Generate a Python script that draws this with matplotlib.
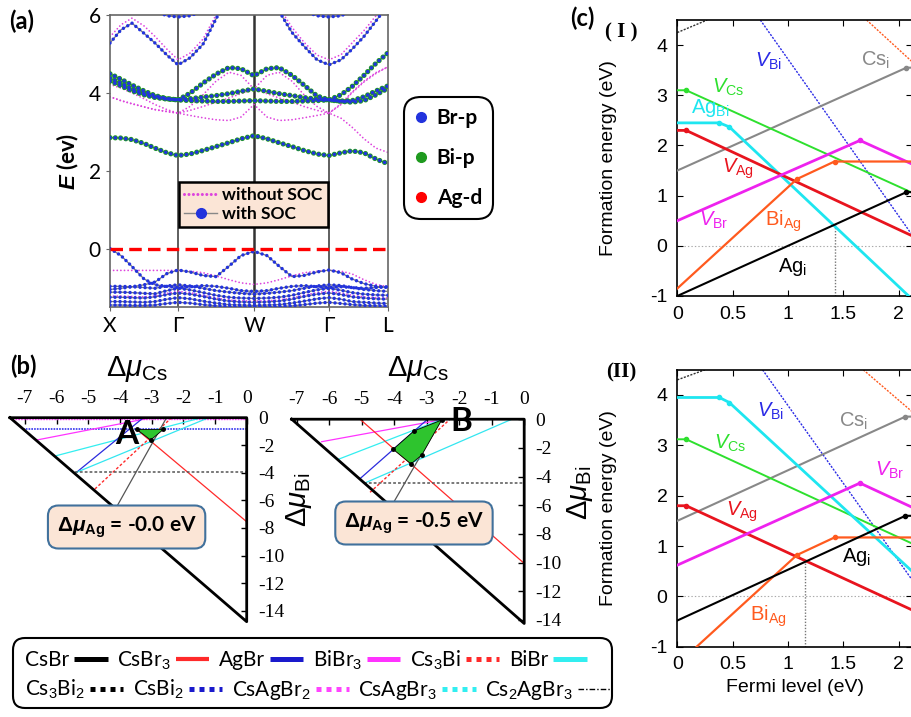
import numpy as np
import matplotlib

matplotlib.use("Agg")
import matplotlib.pyplot as plt
from matplotlib.lines import Line2D
from matplotlib.patches import FancyBboxPatch
from matplotlib.transforms import IdentityTransform
from matplotlib.ticker import FormatStrFormatter

W, H = 912, 717
nan = np.nan

plt.rcParams.update({
    "font.family": ["Lato", "DejaVu Sans"],
    "axes.unicode_minus": False,
    "lines.scale_dashes": False,
    "mathtext.fontset": "custom",
    "mathtext.rm": "Liberation Sans",
    "mathtext.it": "Liberation Sans:italic",
    "mathtext.bf": "Liberation Sans:bold",
    "mathtext.bfit": "Liberation Sans:bold:italic",
    "mathtext.fallback": "stixsans",
})

# ---- (a) band structure ---------------------------------------------------
K_NODES = [0.0, 0.68, 1.44, 2.19, 2.78]
K_NAMES = ["X", "Γ", "W", "Γ", "L"]
K = [0.00, 0.11, 0.22, 0.34, 0.45, 0.57, 0.68, 0.80, 0.93, 1.06, 1.19, 1.31,
     1.44, 1.57, 1.69, 1.82, 1.94, 2.07, 2.19, 2.31, 2.42, 2.54, 2.66, 2.78]

# with SOC, conduction
C1 = [2.85, 2.84, 2.80, 2.70, 2.58, 2.46, 2.39, 2.43, 2.52, 2.62, 2.72, 2.82,
      2.90, 2.82, 2.72, 2.62, 2.52, 2.43, 2.39, 2.46, 2.51, 2.46, 2.30, 2.18]
C2 = [4.49, 4.35, 4.20, 4.05, 3.93, 3.85, 3.82, 3.99, 4.25, 4.48, 4.65, 4.62,
      4.44, 4.62, 4.65, 4.45, 4.20, 3.92, 3.82, 3.95, 4.16, 4.45, 4.76, 5.03]
C3 = [4.38, 4.25, 4.10, 3.98, 3.90, 3.85, 3.82, 3.85, 3.89, 3.93, 3.98, 4.04,
      4.10, 4.04, 3.98, 3.93, 3.88, 3.84, 3.82, 3.79, 3.80, 3.90, 4.05, 4.18]
C4 = [4.30, 4.18, 4.05, 3.95, 3.88, 3.84, 3.82, 3.80, 3.79, 3.78, 3.78, 3.79,
      3.80, 3.79, 3.78, 3.78, 3.79, 3.80, 3.82, 3.78, 3.76, 3.80, 3.95, 4.12]
C5 = [5.28, 5.62, 5.79, 5.53, 5.28, 4.97, 4.72, 4.90, 5.25, 5.90, 6.50, nan,
      nan, 6.60, 6.10, 5.55, 5.20, 4.85, 4.72, 4.85, 5.12, 5.45, 5.85, 6.25]
C6 = [nan, nan, nan, nan, 6.10, 5.98, 5.95, 5.98, 6.10, nan, nan, nan,
      nan, nan, nan, nan, 6.10, 5.98, 5.95, 5.98, 6.10, nan, nan, nan]
# with SOC, valence
V1 = [0.00, -0.18, -0.46, -0.78, -0.93, -0.97, -1.00, -0.98, -0.95, -0.97, -1.02, -1.08,
      -1.10, -1.08, -1.02, -0.97, -0.95, -0.98, -1.00, -0.98, -1.00, -1.02, -1.00, -0.98]
V2 = [-1.05, -1.02, -0.98, -0.93, -0.86, -0.64, -0.55, -0.60, -0.69, -0.72, -0.45, -0.18,
      -0.07, -0.18, -0.45, -0.72, -0.69, -0.60, -0.55, -0.62, -0.78, -0.90, -0.97, -1.00]
V3 = [-0.97, -0.97, -0.98, -1.00, -1.02, -0.96, -0.93, -0.96, -1.02, -1.08, -1.12, -1.15,
      -1.17, -1.15, -1.12, -1.08, -1.02, -0.96, -0.93, -0.95, -1.00, -1.05, -1.08, -1.10]
V4 = [-1.12, -1.12, -1.13, -1.15, -1.16, -1.08, -1.02, -1.06, -1.13, -1.20, -1.25, -1.27,
      -1.28, -1.27, -1.25, -1.20, -1.13, -1.06, -1.02, -1.07, -1.13, -1.17, -1.19, -1.20]
V5 = [-1.25, -1.25, -1.26, -1.27, -1.24, -1.18, -1.14, -1.17, -1.23, -1.30, -1.35, -1.37,
      -1.38, -1.37, -1.35, -1.30, -1.23, -1.17, -1.14, -1.18, -1.24, -1.27, -1.29, -1.30]
V6 = [-1.36, -1.36, -1.37, -1.38, -1.36, -1.30, -1.26, -1.29, -1.35, -1.40, -1.44, -1.45,
      -1.46, -1.45, -1.44, -1.40, -1.35, -1.29, -1.26, -1.30, -1.36, -1.38, -1.40, -1.41]
V7 = [-1.45, -1.45, -1.46, -1.46, -1.45, -1.41, -1.38, -1.40, -1.44, -1.47, -1.49, -1.50,
      -1.50, -1.50, -1.49, -1.47, -1.44, -1.40, -1.38, -1.41, -1.44, -1.46, -1.47, -1.48]
# without SOC
N1 = [5.44, 5.75, 5.92, 5.72, 5.45, 5.12, 4.85, 5.02, 5.38, 6.00, 6.60, nan,
      nan, 6.70, 6.20, 5.68, 5.30, 4.97, 4.85, 4.98, 5.28, 5.60, 5.98, 6.35]
N2 = [4.22, 4.12, 4.00, 3.85, 3.70, 3.57, 3.48, 3.65, 3.95, 4.30, 4.53, 4.45,
      4.10, 4.45, 4.53, 4.30, 3.95, 3.65, 3.48, 3.72, 4.02, 4.30, 4.52, 4.67]
N3 = [3.90, 3.80, 3.72, 3.64, 3.57, 3.52, 3.48, 3.42, 3.36, 3.31, 3.29, 3.38,
      3.70, 3.38, 3.29, 3.31, 3.36, 3.42, 3.48, 3.35, 3.12, 2.82, 2.58, 2.47]
N4 = [3.90, 3.80, 3.72, 3.64, 3.57, 3.52, 3.48, 3.55, 3.65, 3.76, 3.87, 3.98,
      4.10, 3.98, 3.87, 3.76, 3.65, 3.55, 3.48, 3.70, 4.00, 4.28, 4.50, 4.67]
M1 = [-0.56, -0.56, -0.56, -0.56, -0.56, -0.56, -0.56, -0.58, -0.62, -0.70, -0.80, -0.88,
      -0.92, -0.88, -0.80, -0.70, -0.62, -0.58, -0.56, -0.58, -0.65, -0.80, -0.92, -0.98]
M2 = [-1.22, -1.22, -1.23, -1.24, -1.22, -1.15, -1.10, -1.13, -1.20, -1.27, -1.32, -1.34,
      -1.35, -1.34, -1.32, -1.27, -1.20, -1.13, -1.10, -1.14, -1.20, -1.24, -1.26, -1.27]

# ---- (b) chemical potential maps ------------------------------------------
A_TRI_X = [-7.47, 0.0, 0.0, -7.47]
A_TRI_Y = [0.0, 0.0, -14.8, 0.0]
A_CSBR = ([-4.10, -2.53], [-6.45, 0.0])
A_CSBR3 = ([-3.47, 0.0], [-0.85, -7.55])
A_AGBR = ([-5.37, -3.26], [-3.96, 0.0])
A_BIBR3 = ([-6.63, -3.0], [-1.62, 0.0])
A_CS3BI = ([-4.79, -2.37], [-5.17, 0.0])
A_BIBR = ([-6.0, -1.42], [-2.75, 0.0])
A_CS3BI2 = ([-5.42, 0.0], [-3.91, -3.91])
A_CSBI2 = ([-7.05, 0.0], [-0.82, -0.82])
A_CSAGBR2 = ([-7.3, 0.0], [-0.08, -0.08])
A_CSAGBR3 = ([-5.37, -1.2], [-3.96, 0.0])
A_REG_X = [-3.47, -2.63, -3.03]
A_REG_Y = [-0.85, -0.85, -1.62]

B_TRI_X = [-7.15, 0.0, 0.0, -7.15]
B_TRI_Y = [0.0, 0.0, -14.25, 0.0]
B_CSBR = ([-4.03, -2.54], [-5.86, 0.0])
B_CSBR3 = ([-5.05, 0.0], [0.0, -10.06])
B_AGBR = ([-5.05, -3.0], [-4.15, -0.06])
B_BIBR3 = ([-6.23, -2.59], [-1.57, -0.06])
B_CS3BI = ([-4.74, -2.28], [-5.1, 0.0])
B_BIBR = ([-5.72, -2.59], [-2.8, -0.06])
B_CS3BI2 = ([-4.94, 0.0], [-4.43, -4.43])
B_CSAGBR3 = ([-4.85, -0.38], [-4.4, 0.0])
B_REG_X = [-2.54, -3.39, -4.03, -3.48, -3.15]
B_REG_Y = [-0.06, -0.82, -2.10, -3.12, -2.50]

# ---- (c) defect formation energies ----------------------------------------
I_AGI = ([0, 2.07, 2.12], [-1.0, 1.07, 1.07])
I_BIAG = ([0, 1.08, 1.42, 2.12], [-0.85, 1.33, 1.68, 1.68])
I_VBR = ([0, 1.65, 2.12], [0.5, 2.1, 1.63])
I_VAG = ([0, 0.08, 2.12], [2.3, 2.3, 0.2])
I_AGBI = ([0, 0.38, 0.47, 2.09], [2.45, 2.45, 2.37, -1.0])
I_VCS = ([0, 0.08, 2.12], [3.1, 3.1, 1.06])
I_CSI = ([0, 2.07, 2.12], [1.5, 3.55, 3.55])
I_VBI = ([0.75, 2.11], [4.5, 0.25])
I_TOPL = ([0, 0.27], [4.25, 4.5])
I_TOPR = ([1.71, 2.12], [4.5, 3.67])
I_PIN = (1.42, 0.45)

II_AGI = ([0, 2.06, 2.12], [-0.48, 1.6, 1.6])
II_BIAG = ([0.175, 1.08, 1.42, 2.12], [-1.0, 0.82, 1.17, 1.17])
II_VBR = ([0, 1.65, 2.12], [0.62, 2.25, 1.77])
II_VAG = ([0, 0.08, 2.12], [1.8, 1.8, -0.27])
II_AGBI = ([0, 0.38, 0.47, 2.12], [3.95, 3.95, 3.85, 0.5])
II_VCS = ([0, 0.08, 2.12], [3.12, 3.12, 1.05])
II_CSI = ([0, 2.06, 2.12], [1.5, 3.57, 3.57])
II_VBI = ([0.77, 2.12], [4.5, 0.33])
II_TOPL = ([0, 0.25], [4.3, 4.5])
II_TOPR = ([1.68, 2.12], [4.5, 3.67])
II_PIN = (1.155, 0.66)

BLUE = "#2233dd"
GREEN = "#1f9a1f"
MAG = "#dd44dd"

fig = plt.figure(figsize=(W / 100, H / 100), dpi=100)


def box(x0, y0, x1, y1):
    return [x0 / W, 1 - y1 / H, (x1 - x0) / W, (y1 - y0) / H]


def ftext(x, y, s, **kw):
    fig.text(x / W, 1 - y / H, s, ha="center", va="center", **kw)


# ---- panel (a) ------------------------------------------------------------
ax = fig.add_axes(box(110, 15, 388, 307))
ax.set_xlim(K_NODES[0], K_NODES[-1])
ax.set_ylim(-1.5, 6)
for k, lw in zip(K_NODES[1:-1], [1.1, 1.8, 1.1]):
    ax.axvline(k, color="#333333", lw=lw, zorder=1)
for sp in ax.spines.values():
    sp.set_color("#666666")
    sp.set_linewidth(1.2)

for e in [N1, N2, N3, N4, M1, M2]:
    ax.plot(K, e, color=MAG, lw=1.3, ls=(0, (0.01, 2.6)), dash_capstyle="round", zorder=2)
SOC_BANDS = [(C1, True), (C2, True), (C3, True), (C4, True), (C5, False), (C6, False),
             (V7, False), (V6, False), (V5, False), (V4, False), (V3, False),
             (V1, False), (V2, False)]
for e, green in SOC_BANDS:
    ax.plot(K, e, color="#777777", lw=0.9, zorder=3)
    if green:
        ax.plot(K, e, color=GREEN, lw=3.8, ls=(0, (0.01, 3.8)), dash_capstyle="round", zorder=4)
        ax.plot(K, e, color=BLUE, lw=2.6, ls=(0, (0.01, 3.8)), dash_capstyle="round", zorder=5)
    else:
        ax.plot(K, e, color=BLUE, lw=2.5, ls=(0, (0.01, 3.6)), dash_capstyle="round", zorder=5)
ax.axhline(0, color="red", lw=2.4, ls=(0, (9, 4.5)), zorder=6)

ax.set_xticks(K_NODES, K_NAMES)
ax.set_yticks([0, 2, 4, 6])
ax.tick_params(labelsize=15, length=3, color="#666666")
ax.set_ylabel(r"$\boldsymbol{E}$ (ev)", fontsize=16, fontweight="bold")
ax.yaxis.set_label_coords(-0.105, 0.5)
leg = ax.legend(
    [Line2D([], [], color=MAG, lw=2.2, ls=(0, (0.01, 3.2)), dash_capstyle="round"),
     Line2D([], [], color="#888888", lw=1, marker="o", ms=7, mfc=BLUE, mec=BLUE)],
    ["without SOC", "with SOC"], loc="center", bbox_to_anchor=(0.516, 0.351),
    prop=dict(weight="bold", size=12.5), fancybox=False, facecolor="#fbe5d6",
    edgecolor="black", framealpha=1, handlelength=1.9, handletextpad=0.3,
    labelspacing=0.2, borderpad=0.3)
leg.get_frame().set_linewidth(1.8)

leg2 = fig.legend(
    [Line2D([], [], ls="none", marker="o", ms=7, color=c) for c in [BLUE, GREEN, "red"]],
    ["Br-p", "Bi-p", "Ag-d"], loc="center", bbox_to_anchor=(449 / W, 1 - 158 / H),
    prop=dict(weight="bold", size=15), fancybox=True, edgecolor="black", framealpha=1,
    handlelength=0.5, handletextpad=0.5, labelspacing=0.95, borderpad=0.55)
leg2.get_frame().set_linewidth(1.5)
leg2.get_frame().set_boxstyle("round,pad=0,rounding_size=0.8")

ftext(22, 21, "(a)", fontsize=17, fontweight="bold")

# ---- panel (b) ------------------------------------------------------------
B_STYLE = {
    "CsBr": dict(color="#555555", lw=0.9),
    "CsBr3": dict(color="#ff2a2a", lw=0.9),
    "AgBr": dict(color="#2b2bdd", lw=0.9),
    "BiBr3": dict(color="#ff33ff", lw=0.9),
    "Cs3Bi": dict(color="#ff2a2a", lw=1.0, ls=(0, (2, 1.5))),
    "BiBr": dict(color="#33eef0", lw=0.9),
    "Cs3Bi2": dict(color="#555555", lw=1.1, ls=(0, (2, 1.5))),
    "CsBi2": dict(color="#3333ee", lw=1.2, ls=(0, (1.2, 0.8))),
    "CsAgBr2": dict(color="#ff44ff", lw=1.0, ls=(0, (1.2, 0.8))),
    "CsAgBr3": dict(color="#33e6f0", lw=0.9),
}


def chem_panel(rect, tri_x, tri_y, lines, reg_x, reg_y, letter, letter_xy, text, text_xy):
    a = fig.add_axes(rect)
    a.set_xlim(tri_x[0], 0)
    a.set_ylim(min(tri_y), 0)
    for sp in a.spines.values():
        sp.set_visible(False)
    a.patch.set_alpha(0)
    for name, (lx, ly) in lines:
        a.plot(lx, ly, **B_STYLE[name], zorder=2)
    a.fill(reg_x, reg_y, color="#2ec42e", ec="black", lw=0.6, zorder=3)
    a.plot(reg_x, reg_y, "o", color="black", ms=2.5, zorder=4)
    a.plot(tri_x, tri_y, color="black", lw=2, clip_on=False, zorder=5)
    a.xaxis.tick_top()
    a.yaxis.tick_right()
    a.set_xticks(range(-7, 1))
    a.set_yticks(range(0, -15, -2))
    a.tick_params(direction="in", length=4, width=1, labelsize=14,
                  labelfontfamily="Liberation Serif")
    a.tick_params(axis="x", pad=8)
    a.tick_params(axis="y", pad=8)
    a.text(*letter_xy, letter, fontsize=24, fontweight="bold", ha="center", va="center", zorder=6)
    a.text(*text_xy, text, fontsize=15, fontweight="bold", ha="center", va="center", zorder=6,
           bbox=dict(boxstyle="round,pad=0.42,rounding_size=0.5", fc="#fbe5d6",
                     ec="#41719c", lw=1.5))
    return a


chem_panel(box(10, 417.7, 246.7, 621.7), A_TRI_X, A_TRI_Y,
           [("CsAgBr2", A_CSAGBR2), ("CsBi2", A_CSBI2), ("BiBr3", A_BIBR3), ("BiBr", A_BIBR),
            ("AgBr", A_AGBR), ("CsAgBr3", A_CSAGBR3), ("Cs3Bi", A_CS3BI), ("CsBr3", A_CSBR3),
            ("CsBr", A_CSBR), ("Cs3Bi2", A_CS3BI2)],
           A_REG_X, A_REG_Y, "A", (-3.79, -1.25),
           r"$\mathbf{\Delta}\boldsymbol{\mu}_{\mathbf{Ag}}$ = -0.0 eV", (-3.79, -7.93))
chem_panel(box(291.7, 419.2, 524.2, 623.5), B_TRI_X, B_TRI_Y,
           [("BiBr3", B_BIBR3), ("BiBr", B_BIBR), ("AgBr", B_AGBR), ("CsAgBr3", B_CSAGBR3),
            ("Cs3Bi", B_CS3BI), ("CsBr3", B_CSBR3), ("CsBr", B_CSBR), ("Cs3Bi2", B_CS3BI2)],
           B_REG_X, B_REG_Y, "B", (-1.93, -0.17),
           r"$\mathbf{\Delta}\boldsymbol{\mu}_{\mathbf{Ag}}$ = -0.5 eV", (-3.39, -7.24))

ftext(23, 366, "(b)", fontsize=17, fontweight="bold")
for x in [137, 418]:
    ftext(x, 369, r"$\Delta\mu_{\rm Cs}$", fontsize=21)
ftext(299, 500, r"$\Delta\mu_{\rm Bi}$", fontsize=21, rotation=90)
ftext(580, 493, r"$\Delta\mu_{\rm Bi}$", fontsize=21, rotation=90)

# bottom legend for (b)
fig.add_artist(FancyBboxPatch((13, H - 708), 599, 70, boxstyle="round,pad=0,rounding_size=12",
                              transform=IdentityTransform(), fill=False, ec="black", lw=1.5))


def hnd(color, lw=3.6, ls="-"):
    return Line2D([], [], color=color, lw=lw, ls=ls, solid_capstyle="butt", dash_capstyle="butt")


DOT = (0, (3.6, 3.6))
row1 = [("CsBr", hnd("black")), (r"CsBr$_{\rm 3}$", hnd("#ff2a2a", 3)),
        ("AgBr", hnd("#1a1acc")), (r"BiBr$_{\rm 3}$", hnd("#ff33ff")),
        (r"Cs$_{\rm 3}$Bi", hnd("#ff2a2a", 3.6, DOT)), ("BiBr", hnd("#33eef0"))]
row2 = [(r"Cs$_{\rm 3}$Bi$_{\rm 2}$", hnd("black", 3.6, DOT)),
        (r"CsBi$_{\rm 2}$", hnd("#1a1acc", 3.6, DOT)),
        (r"CsAgBr$_{\rm 2}$", hnd("#ff44ff", 3.6, DOT)),
        (r"CsAgBr$_{\rm 3}$", hnd("#33eef0", 3.6, DOT)),
        (r"Cs$_{\rm 2}$AgBr$_{\rm 3}$", hnd("black", 1.0, (0, (4, 1.5, 1, 1.5))))]
for row, y in [(row1, 660), (row2, 690)]:
    fig.legend([h for _, h in row], [s for s, _ in row], loc="center left",
               bbox_to_anchor=(25 / W, 1 - y / H), ncol=len(row), frameon=False,
               markerfirst=False, handlelength=1.6, handletextpad=0.25, columnspacing=0.45,
               borderpad=0, borderaxespad=0, prop=dict(size=15))

# ---- panel (c) ------------------------------------------------------------
C_COL = {"AGI": "black", "BIAG": "#ff5a1e", "VBR": "#ee22ee", "VAG": "#e8141e",
         "AGBI": "#1ee6f0", "VCS": "#2ee02e", "CSI": "#888888", "VBI": "#2a2ae6"}
C_LW = {"AGI": 1.5, "BIAG": 1.6, "VBR": 2.0, "VAG": 2.0, "AGBI": 2.0, "VCS": 1.4, "CSI": 1.5}


def defect_panel(rect, curves, vbi, topl, topr, pin, labels, tag, tag_y, xlabel):
    a = fig.add_axes(rect)
    a.set_xlim(0, 2.12)
    a.set_ylim(-1, 4.5)
    a.axhline(0, color="#aaaaaa", lw=0.8, ls=(0, (1, 1.5)), zorder=1)
    a.plot([pin[0], pin[0]], [-1, pin[1]], color="#777777", lw=1, ls=(0, (1, 1.2)), zorder=1)
    a.plot(*topl, color="#333333", lw=1, ls=(0, (1.5, 1)))
    a.plot(*topr, color="#ff5a1e", lw=1, ls=(0, (1.5, 1)))
    a.plot(*vbi, color=C_COL["VBI"], lw=1, ls=(0, (1.5, 1)))
    for key, (cx, cy) in curves:
        a.plot(cx, cy, color=C_COL[key], lw=C_LW[key], zorder=3)
        a.plot(cx[1:-1], cy[1:-1], "o", color=C_COL[key], ms=3, zorder=4)
    for s, key, xy in labels:
        a.text(*xy, s, color=C_COL[key], fontsize=14.5, family="Liberation Sans",
               ha="center", va="center")
    a.set_xticks([0, 0.5, 1, 1.5, 2])
    a.set_yticks(range(-1, 5))
    a.xaxis.set_major_formatter(FormatStrFormatter("%g"))
    a.tick_params(direction="in", top=True, right=True, length=4, labelsize=14,
                  labelfontfamily="Liberation Sans", pad=7)
    for sp in a.spines.values():
        sp.set_linewidth(1.2)
    a.set_ylabel("Formation energy (eV)", fontsize=14, family="Liberation Sans")
    a.yaxis.set_label_coords(-0.255, 0.5)
    if xlabel:
        a.set_xlabel("Fermi level (eV)", fontsize=14, family="Liberation Sans", labelpad=4)
    ftext(621, tag_y, tag, fontsize=15, fontweight="bold", family="Liberation Serif")
    return a


defect_panel(box(677.3, 20, 912, 296),
             [("CSI", I_CSI), ("VCS", I_VCS), ("AGBI", I_AGBI), ("VAG", I_VAG),
              ("VBR", I_VBR), ("BIAG", I_BIAG), ("AGI", I_AGI)],
             I_VBI, I_TOPL, I_TOPR, I_PIN,
             [(r"$V_{\rm Bi}$", "VBI", (0.82, 3.67)), (r"Cs$_{\rm i}$", "CSI", (1.79, 3.70)),
              (r"$V_{\rm Cs}$", "VCS", (0.46, 3.16)), (r"Ag$_{\rm Bi}$", "AGBI", (0.30, 2.74)),
              (r"$V_{\rm Ag}$", "VAG", (0.55, 1.54)), (r"$V_{\rm Br}$", "VBR", (0.33, 0.51)),
              (r"Bi$_{\rm Ag}$", "BIAG", (0.96, 0.48)), (r"Ag$_{\rm i}$", "AGI", (1.04, -0.42))],
             "( I )", 32, False)
defect_panel(box(677.3, 369.8, 912, 646.7),
             [("CSI", II_CSI), ("VCS", II_VCS), ("AGBI", II_AGBI), ("VAG", II_VAG),
              ("VBR", II_VBR), ("BIAG", II_BIAG), ("AGI", II_AGI)],
             II_VBI, II_TOPL, II_TOPR, II_PIN,
             [(r"$V_{\rm Bi}$", "VBI", (0.84, 3.67)), (r"Cs$_{\rm i}$", "CSI", (1.59, 3.47)),
              (r"$V_{\rm Cs}$", "VCS", (0.48, 3.04)), (r"$V_{\rm Br}$", "VBR", (1.92, 2.51)),
              (r"$V_{\rm Ag}$", "VAG", (0.58, 1.68)), (r"Ag$_{\rm i}$", "AGI", (1.62, 0.79)),
              (r"Bi$_{\rm Ag}$", "BIAG", (0.82, -0.40))],
             "(II)", 372, True)

ftext(582, 18, "(c)", fontsize=17, fontweight="bold")

fig.savefig("out.png", dpi=100)
